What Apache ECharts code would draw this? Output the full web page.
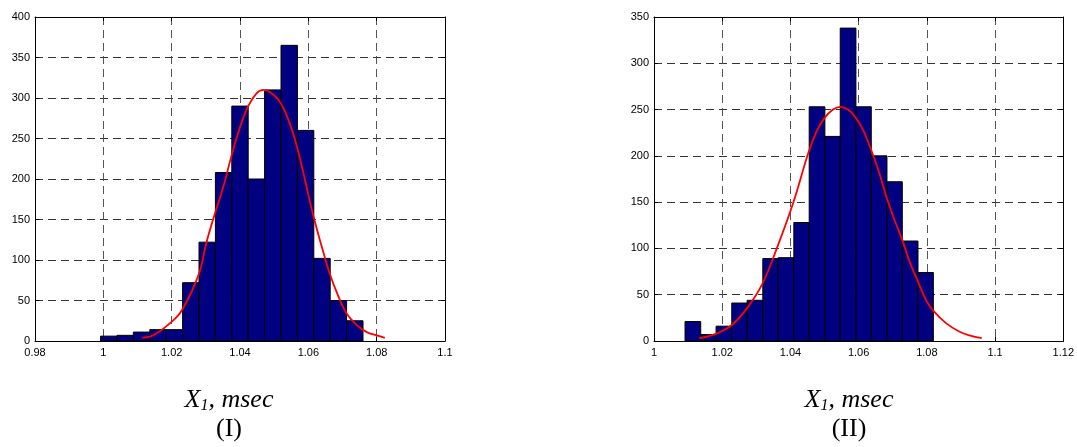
<!DOCTYPE html>
<html>
<head>
<meta charset="utf-8">
<script src="https://cdn.jsdelivr.net/npm/echarts@6/dist/echarts.min.js"></script>
<style>
  html, body { margin: 0; padding: 0; background: #fff; }
  #chart { width: 1077px; height: 447px; }
</style>
</head>
<body>
<div id="chart"></div>
<script>
// ---------- Data ----------
// Histogram (I)
const binEdgesI = [0.9992, 1.0040, 1.0088, 1.0136, 1.0184, 1.0232, 1.0280, 1.0328, 1.0376,
                   1.0424, 1.0472, 1.0520, 1.0568, 1.0616, 1.0664, 1.0712, 1.0760];
const countsI = [6, 7, 11, 14, 14, 72, 122, 208, 290, 200, 310, 365, 260, 102, 50, 25];
// Fitted curve (I)
const curveXI = [1.0114, 1.0146, 1.0198, 1.0230, 1.0279, 1.0302, 1.0327, 1.0351, 1.0374, 1.0400,
                 1.0424, 1.0449, 1.0468, 1.0488, 1.0517, 1.0546, 1.0569, 1.0595, 1.0615, 1.0639,
                 1.0662, 1.0688, 1.0712, 1.0741, 1.0771, 1.0800, 1.0824];
const curveYI = [4, 7, 23, 38, 82, 122, 158, 190, 227, 264,
                 290, 306, 310, 307, 295, 268, 236, 190, 154, 117,
                 84, 55, 34, 20, 11, 7, 4];

// Histogram (II)
const binEdgesII = [1.0091, 1.0137, 1.0182, 1.0228, 1.0273, 1.0319, 1.0364, 1.0410, 1.0455,
                    1.0501, 1.0546, 1.0592, 1.0637, 1.0683, 1.0728, 1.0774, 1.0819];
const countsII = [21, 7, 16, 41, 44, 89, 90, 128, 253, 221, 338, 253, 200, 172, 108, 74];
// Fitted curve (II)
const curveXII = [1.0133, 1.0183, 1.0227, 1.0272, 1.0318, 1.0362, 1.0408, 1.0453, 1.0476, 1.0500,
                  1.0525, 1.0546, 1.0569, 1.0590, 1.0613, 1.0637, 1.0661, 1.0681, 1.0705, 1.0728,
                  1.0749, 1.0772, 1.0798, 1.0818, 1.0857, 1.0896, 1.0925, 1.0961];
const curveYII = [3, 8, 17, 35, 62, 102, 149, 204, 226, 241,
                  250, 253, 250, 242, 228, 206, 181, 156, 131, 109,
                  86, 66, 44, 33, 19, 10, 6, 3];

// Axis settings
const xRangeI = [0.98, 1.1];
const xRangeII = [1.0, 1.12];
const xStep = 0.02;
const yMaxI = 400;
const yMaxII = 350;
const yStep = 50;

const xTitle = '{x|X}{s|1}{x|, msec}';
const panelLabels = ['(I)', '(II)'];

// ---------- Build chart ----------
function histData(edges, counts) {
  return counts.map((c, i) => [edges[i], edges[i + 1], c]);
}
function curveData(xs, ys) {
  return xs.map((x, i) => [x, ys[i]]);
}

const labelStyle = { color: '#000', fontSize: 11, fontFamily: 'Liberation Sans, Arial, sans-serif' };
const dashed = (color) => ({ show: true, lineStyle: { color: color, type: [8, 5], width: 1 } });

function mainX(gridIndex, range) {
  return {
    type: 'value', gridIndex, min: range[0], max: range[1], interval: xStep,
    position: 'bottom',
    axisLine: { show: true, onZero: false, lineStyle: { color: '#000', width: 1 } },
    axisTick: { show: true, inside: true, length: 4, lineStyle: { color: '#000' } },
    axisLabel: Object.assign({ margin: 6, showMinLabel: true, showMaxLabel: true }, labelStyle),
    splitLine: dashed('#555')
  };
}
function topX(gridIndex, range) {
  return {
    type: 'value', gridIndex, min: range[0], max: range[1], interval: xStep,
    position: 'top',
    axisLine: { show: true, onZero: false, lineStyle: { color: '#000', width: 1 } },
    axisTick: { show: true, inside: true, length: 4, lineStyle: { color: '#000' } },
    axisLabel: { show: false },
    splitLine: { show: false }
  };
}
function mainY(gridIndex, max) {
  return {
    type: 'value', gridIndex, min: 0, max: max, interval: yStep,
    position: 'left',
    axisLine: { show: true, onZero: false, lineStyle: { color: '#000', width: 1 } },
    axisTick: { show: true, inside: true, length: 4, lineStyle: { color: '#000' } },
    axisLabel: Object.assign({ margin: 5, showMinLabel: true, showMaxLabel: true }, labelStyle),
    splitLine: dashed('#333')
  };
}
function rightY(gridIndex, max) {
  return {
    type: 'value', gridIndex, min: 0, max: max, interval: yStep,
    position: 'right',
    axisLine: { show: true, onZero: false, lineStyle: { color: '#000', width: 1 } },
    axisTick: { show: true, inside: true, length: 4, lineStyle: { color: '#000' } },
    axisLabel: { show: false },
    splitLine: { show: false }
  };
}

function renderBar(params, api) {
  const x0 = api.value(0), x1 = api.value(1), y = api.value(2);
  const p0 = api.coord([x0, y]);
  const p1 = api.coord([x1, 0]);
  return {
    type: 'rect',
    shape: { x: p0[0], y: p0[1], width: p1[0] - p0[0], height: p1[1] - p0[1] },
    style: { fill: '#000080', stroke: '#000', lineWidth: 1 }
  };
}

const chart = echarts.init(document.getElementById('chart'), null, { renderer: 'canvas' });

const titleFont = 'Liberation Serif, Times New Roman, serif';
function titleText(x, label) {
  return [
    {
      type: 'text', x: x, y: 400,
      style: {
        text: xTitle, align: 'center', verticalAlign: 'middle',
        rich: {
          x: { fontFamily: titleFont, fontStyle: 'italic', fontSize: 26, fill: '#000' },
          s: { fontFamily: titleFont, fontStyle: 'italic', fontSize: 16, fill: '#000', padding: [12, 0, 0, 0] }
        }
      }
    },
    {
      type: 'text', x: x, y: 429,
      style: {
        text: label, align: 'center', verticalAlign: 'middle',
        font: '26px ' + titleFont, fill: '#000'
      }
    }
  ];
}

const option = {
  animation: false,
  backgroundColor: '#fff',
  grid: [
    { left: 35, top: 17, width: 410, height: 324, containLabel: false },
    { left: 654, top: 17, width: 410, height: 324, containLabel: false }
  ],
  xAxis: [mainX(0, xRangeI), topX(0, xRangeI), mainX(1, xRangeII), topX(1, xRangeII)],
  yAxis: [mainY(0, yMaxI), rightY(0, yMaxI), mainY(1, yMaxII), rightY(1, yMaxII)],
  series: [
    {
      type: 'custom', xAxisIndex: 0, yAxisIndex: 0, renderItem: renderBar,
      data: histData(binEdgesI, countsI), z: 2,
      encode: { x: [0, 1], y: 2 }
    },
    {
      type: 'line', xAxisIndex: 0, yAxisIndex: 0, smooth: 0.4, showSymbol: false,
      data: curveData(curveXI, curveYI), z: 5,
      lineStyle: { color: '#ff0000', width: 1.8 }
    },
    {
      type: 'custom', xAxisIndex: 2, yAxisIndex: 2, renderItem: renderBar,
      data: histData(binEdgesII, countsII), z: 2,
      encode: { x: [0, 1], y: 2 }
    },
    {
      type: 'line', xAxisIndex: 2, yAxisIndex: 2, smooth: 0.4, showSymbol: false,
      data: curveData(curveXII, curveYII), z: 5,
      lineStyle: { color: '#ff0000', width: 1.8 }
    }
  ],
  graphic: titleText(229, panelLabels[0]).concat(titleText(849, panelLabels[1]))
};

chart.setOption(option);
</script>
</body>
</html>
